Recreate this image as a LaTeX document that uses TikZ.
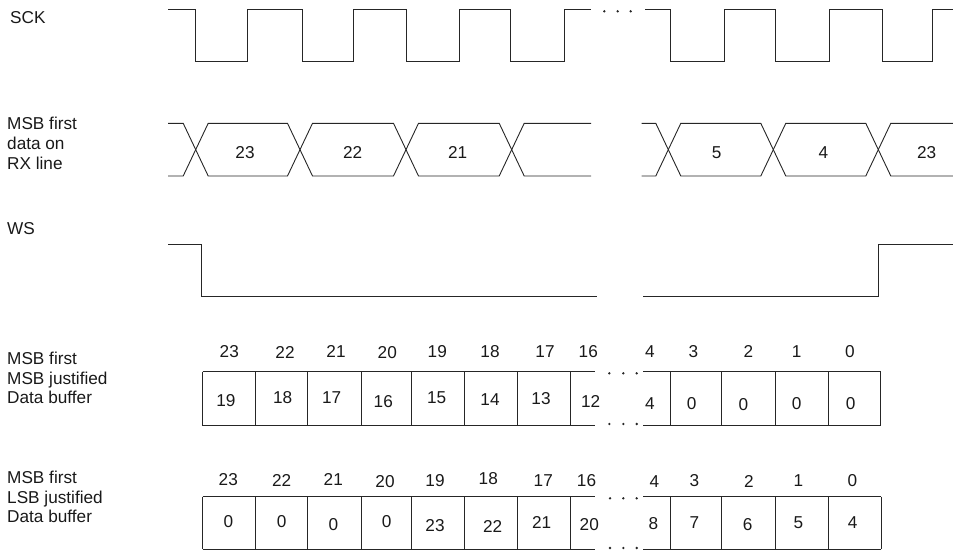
\documentclass[tikz,border=0pt]{standalone}
\usepackage{fontspec}
\setmainfont{Liberation Sans}
\begin{document}
\begin{tikzpicture}[x=1pt,y=-1pt,
  wave/.style={line width=0.9pt, draw=black!85, line join=miter},
  lbl/.style={font=\fontsize{17.2}{19.8}\selectfont, inner sep=0pt, text=black!90},
  side/.style={lbl, anchor=base west, align=left},
  dotmark/.style={fill=black!85, circle, inner sep=0pt, minimum size=2.6pt}]
\useasboundingbox (0,0) rectangle (953,551);

% ---- side labels (anchor = baseline of the last line) ----
\node[side] (lsck) at (10,24) {SCK};
\node[side] (lrx) at (7,169) {MSB first\\data on\\RX line};
\node[side] (lws) at (7,234.7) {WS};
\node[side] (lmsb) at (7,403.9) {MSB first\\MSB justified\\Data buffer};
\node[side] (llsb) at (7,522.9) {MSB first\\LSB justified\\Data buffer};

% ---- SCK ----
\def\H{9.5}\def\L{61.7}
\draw[wave] (168,\H) -- (195.7,\H) -- (195.7,\L) -- (247.3,\L) -- (247.3,\H) -- (302.3,\H) -- (302.3,\L)
  -- (353.3,\L) -- (353.3,\H) -- (406,\H) -- (406,\L) -- (459,\L) -- (459,\H) -- (510,\H) -- (510,\L)
  -- (564,\L) -- (564,\H) -- (591,\H);
\draw[wave] (645,\H) -- (670,\H) -- (670,\L) -- (724.3,\L) -- (724.3,\H) -- (775,\H) -- (775,\L)
  -- (829.3,\L) -- (829.3,\H) -- (882.3,\H) -- (882.3,\L) -- (932.7,\L) -- (932.7,\H) -- (953,\H);
\foreach \x [count=\i] in {604.3,617.7,630.7}
  \node[dotmark] (sd\i) at (\x,11.3) {};

% ---- RX data line ----
\def\T{123.3}\def\B{176}
\draw[wave] (168,\T) -- (183.2,\T) -- (208.2,\B) -- (287.5,\B) -- (312.5,\T) -- (393.5,\T) -- (418.5,\B)
  -- (499.2,\B) -- (524.2,\T) -- (591,\T);
\draw[wave] (168,\B) -- (183.2,\B) -- (208.2,\T) -- (287.5,\T) -- (312.5,\B) -- (393.5,\B) -- (418.5,\T)
  -- (499.2,\T) -- (524.2,\B) -- (591,\B);
\draw[wave] (641.7,\T) -- (655.8,\T) -- (680.8,\B) -- (760.8,\B) -- (785.8,\T) -- (865.8,\T) -- (890.8,\B) -- (953,\B);
\draw[wave] (641.7,\B) -- (655.8,\B) -- (680.8,\T) -- (760.8,\T) -- (785.8,\B) -- (865.8,\B) -- (890.8,\T) -- (953,\T);
\foreach \x/\t [count=\i] in {245/23,352.7/22,457.7/21,716.7/5,823.3/4,926.7/23}
  \node[lbl] (rx\i) at (\x,152.5) {\t};

% ---- WS ----
\draw[wave] (168.3,244) -- (201.7,244) -- (201.7,296) -- (596.7,296);
\draw[wave] (643.3,296) -- (878.3,296) -- (878.3,244) -- (953,244);

% ---- MSB justified buffer ----
\def\Ta{371.7}\def\Ba{425.7}
\draw[wave] (202.7,\Ta) -- (595,\Ta) (202.7,\Ba) -- (595,\Ba);
\draw[wave] (643.3,\Ta) -- (880.7,\Ta) (643.3,\Ba) -- (880.7,\Ba);
\foreach \x in {202.7,255,307.3,361.7,411,464.3,517.3,570.7,670.3,721.3,775,828,880.7}
  \draw[wave] (\x,\Ta) -- (\x,\Ba);
\foreach \x [count=\i] in {609.3,623.3,636.7}{
  \node[dotmark] (mt\i) at (\x,373.3) {};
  \node[dotmark] (mb\i) at (\x,424) {};}
\foreach \x/\y/\t [count=\i] in {229.3/351.5/23,285/352/22,336/351.7/21,387.3/353/20,437.3/352/19,
    490/351.7/18,545/352/17,588.3/351.7/16,650/351.7/4,693.3/351.7/3,748.3/351.7/2,796.7/351.7/1,850/351.7/0}
  \node[lbl] (mbit\i) at (\x,\y) {\t};
\foreach \x/\y/\t [count=\i] in {226/400.7/19,282.7/398/18,331.7/398/17,383.3/401.7/16,436.7/398/15,
    490/400/14,541/399/13,590.7/401.7/12,650/404/4,691.7/404/0,743.3/405/0,796.7/404/0,850.7/404/0}
  \node[lbl] (mval\i) at (\x,\y) {\t};

% ---- LSB justified buffer ----
\def\Tb{496.7}\def\Bb{549.3}
\draw[wave] (202.7,\Tb) -- (595,\Tb) (202.7,\Bb) -- (595,\Bb);
\draw[wave] (643.3,\Tb) -- (881,\Tb) (643.3,\Bb) -- (881,\Bb);
\foreach \x in {202.7,255,307.3,361.7,411,464.3,517.3,570.7,670.3,721.3,775,828,881}
  \draw[wave] (\x,\Tb) -- (\x,\Bb);
\foreach \x [count=\i] in {610,623.3,636.7}{
  \node[dotmark] (lt\i) at (\x,498.3) {};
  \node[dotmark] (lb\i) at (\x,548) {};}
\foreach \x/\y/\t [count=\i] in {228.3/479.3/23,281.7/480/22,333.3/479/21,385/481.7/20,435/481/19,
    488.3/479/18,543.3/481/17,586.5/480.5/16,654.3/481.7/4,694.3/481/3,749/481/2,798.3/481/1,852.3/481/0}
  \node[lbl] (lbit\i) at (\x,\y) {\t};
\foreach \x/\y/\t [count=\i] in {228.3/521.7/0,281.7/521.7/0,333.3/525/0,386.7/521.7/0,435/526/23,
    492.7/526/22,541.7/522/21,589.3/525/20,653.3/523.3/8,694.3/523/7,747.7/525/6,798.3/523/5,852.7/523/4}
  \node[lbl] (lval\i) at (\x,\y) {\t};
\end{tikzpicture}
\end{document}
